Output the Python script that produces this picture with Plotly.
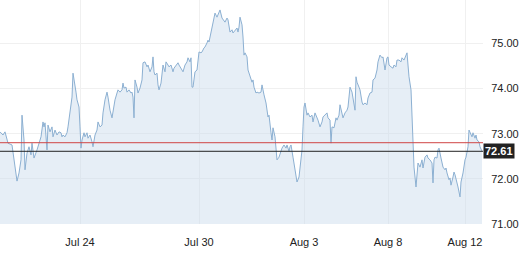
import plotly.graph_objects as go

# time positions (trading-time index) and prices
t = [0,3,5,7,8,12,14,16,17,19,21,22,24,25,27,29,31,32,34,37,39,41,43,44,45,47,48,50,52,53,55,57,59,
     61,62,63,65,67,68,70,72,73,75,76,77,79,80,81,82,84,85,87,88,90,92,93,95,97,98,100,102,103,105,107,108,110,112,113,115,117,118,
     120,122,123,124,126,127,129,131,132,133,134,135,137,138,140,142,143,145,147,148,150,152,153,154,155,157,158,159,161,162,163,165,166,168,169,171,173,174,176,178,179,
     181,182,183,185,187,188,190,191,192,193,195,197,198,199,201,202,204,205,207,208,209,211,212,213,214,215,217,218,219,220,222,223,225,227,228,230,232,233,235,237,238,239,240,
     242,243,244,245,247,248,250,252,253,254,256,257,259,261,262,263,264,266,267,268,269,270,271,272,273,275,276,277,279,281,282,284,286,287,289,290,291,293,294,296,297,299,
     300,302,303,304,305,307,308,310,312,313,315,317,318,320,322,323,325,327,328,330,331,332,334,336,337,339,340,342,343,345,347,348,350,352,353,355,356,357,359,
     360,362,363,365,367,368,370,372,373,375,377,378,380,382,383,385,387,388,389,391,393,394,396,397,399,401,402,404,406,407,408,409,411,412,413,414,416,417,418,
     420,422,423,425,427,428,430,432,433,434,435,437,438,439,441,442,443,445,446,447,449,450,451,453,454,455,457,458,460,461,463,464,465,466,468,469,471,472,473,475,476,477,479,480,482]

price = [73.04,72.97,73.04,72.86,72.79,72.75,72.42,72.13,71.95,72.13,72.42,73.41,72.86,72.20,72.57,72.71,72.53,72.79,72.46,72.64,72.79,72.93,73.26,73.15,73.24,72.64,73.19,73.04,73.15,72.93,73.08,72.97,73.04,
         73.02,72.93,72.97,72.93,73.02,73.15,73.52,73.81,74.34,73.97,73.92,73.75,73.59,73.15,72.68,72.86,73.02,72.93,73.02,72.90,72.97,72.82,72.71,72.97,73.08,73.26,73.15,73.19,73.46,73.75,73.92,73.81,73.52,73.35,73.52,73.75,73.90,73.97,
         73.92,73.97,74.12,74.01,74.03,73.92,73.97,73.90,73.92,73.81,73.35,74.19,74.03,73.90,74.01,74.19,74.57,74.59,74.48,74.52,74.37,74.48,74.70,74.37,74.30,74.34,74.08,73.97,74.12,74.41,74.52,74.37,74.59,74.52,74.48,74.52,74.37,74.45,74.52,74.57,74.52,
         74.45,74.41,74.37,74.52,74.59,74.68,74.59,74.68,74.03,74.03,74.37,74.41,74.57,74.81,74.79,74.81,74.90,74.92,75.01,75.07,75.03,75.23,75.34,75.41,75.52,75.67,75.58,75.63,75.67,75.74,75.56,75.52,75.47,75.56,75.52,75.25,75.30,75.23,75.30,75.34,75.25,75.36,75.58,
         75.41,75.14,74.74,74.79,74.70,74.41,74.26,74.14,74.19,74.03,73.90,73.92,73.90,73.92,74.08,73.92,73.86,73.68,73.52,73.37,73.41,73.15,73.02,72.86,73.13,72.93,72.57,72.42,72.48,72.61,72.68,72.75,72.68,72.75,72.61,72.71,72.75,72.48,72.35,72.13,71.93,72.04,
         72.20,72.64,73.15,73.59,73.68,73.41,73.46,73.37,73.41,73.26,73.46,73.37,73.30,73.15,73.26,73.37,73.41,73.46,73.35,73.30,72.79,73.15,73.13,73.35,73.30,73.41,73.64,73.41,73.35,73.46,73.52,73.59,74.03,73.92,73.75,73.52,74.26,74.14,74.03,
         73.97,73.70,73.64,73.68,73.64,73.79,73.90,73.92,74.19,74.23,74.41,74.59,74.74,74.68,74.70,74.41,74.68,74.70,74.52,74.48,74.45,74.52,74.48,74.63,74.63,74.59,74.68,74.63,74.74,74.79,74.52,74.26,73.97,73.37,72.79,72.26,71.82,72.13,72.35,
         72.26,72.42,72.24,72.48,72.53,72.46,72.42,72.35,71.91,72.42,72.48,72.46,72.64,72.68,72.46,72.31,72.26,72.20,72.24,72.13,71.98,72.02,71.86,72.04,72.15,72.09,71.93,71.82,71.60,71.93,72.13,72.35,72.42,72.48,72.71,73.08,72.97,72.93,73.02,72.90,72.97,72.86,72.82,72.71,72.61]

x_tick_pos = [80, 199, 304, 388, 465]
x_tick_labels = ["Jul 24", "Jul 30", "Aug 3", "Aug 8", "Aug 12"]
y_ticks = [71, 72, 73, 74, 75]
prev_close = 72.80
last_price = 72.61

fig = go.Figure()
fig.add_trace(go.Scatter(
    x=t, y=price, mode="lines",
    line=dict(color="#8cb0d2", width=1),
    fill="tozeroy", fillcolor="rgba(200,218,235,0.45)",
    hoverinfo="skip", showlegend=False,
))

fig.add_shape(type="line", xref="paper", x0=0, x1=1, yref="y", y0=prev_close, y1=prev_close,
              line=dict(color="#d04545", width=1))
fig.add_shape(type="line", xref="paper", x0=0, x1=1, yref="y", y0=last_price, y1=last_price,
              line=dict(color="#222222", width=1))

fig.add_annotation(xref="paper", x=1, yref="y", y=last_price, xanchor="left", yanchor="middle",
                   text="<b>%.2f</b>" % last_price, showarrow=False,
                   font=dict(family="Liberation Sans, Arial, sans-serif", size=11, color="white"),
                   bgcolor="#222222", borderpad=1)

fig.update_layout(
    width=520, height=253,
    margin=dict(l=0, r=37, t=0, b=29),
    paper_bgcolor="white", plot_bgcolor="white",
    font=dict(family="Liberation Sans, Arial, sans-serif", size=11, color="#222222"),
    xaxis=dict(range=[0, 483], tickvals=x_tick_pos, ticktext=x_tick_labels,
               showgrid=True, gridcolor="#f0f0f0", gridwidth=1, zeroline=False,
               showline=False, ticks="outside", ticklen=0, ticklabelstandoff=8, fixedrange=True),
    yaxis=dict(range=[71, 75.96], side="right", tickvals=y_ticks, tickformat=".2f",
               showgrid=True, gridcolor="#f0f0f0", gridwidth=1, zeroline=False,
               showline=False, ticks="outside", ticklen=0, ticklabelstandoff=5, fixedrange=True),
)

fig.write_html("out.html")
